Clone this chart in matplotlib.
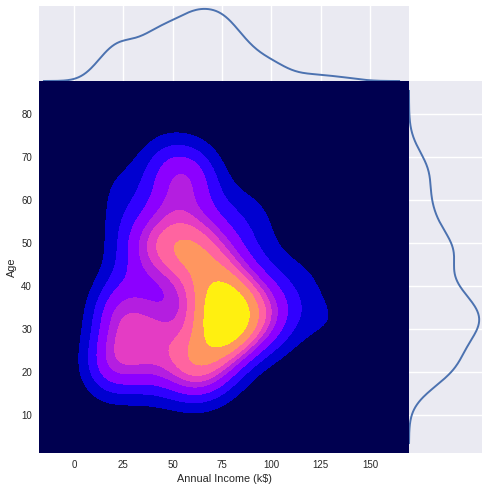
import numpy as np
import matplotlib
matplotlib.use("Agg")
import matplotlib.pyplot as plt

ages = [19,21,20,23,31,22,35,23,64,30,67,35,58,24,37,22,35,20,52,35,35,25,46,31,54,29,45,35,40,23,60,21,53,18,49,21,42,30,36,20,65,24,48,31,49,24,50,27,29,31,49,33,31,59,50,47,51,69,27,53,70,19,67,54,63,18,43,68,19,32,70,47,60,60,59,26,45,40,23,49,57,38,67,46,21,48,55,22,34,50,68,18,48,40,32,24,47,27,48,20,23,49,67,26,49,21,66,54,68,66,65,19,38,19,18,19,63,49,51,50,27,38,40,39,23,31,43,40,59,38,47,39,25,31,20,29,44,32,19,35,57,32,28,32,25,28,48,32,34,34,43,39,44,38,47,27,37,30,34,30,56,29,19,31,50,36,42,33,36,32,40,28,36,36,52,30,58,27,59,35,37,32,46,29,41,30,54,28,41,36,34,32,33,38,47,35,45,32,32,30]
income_values = [15,16,17,18,19,20,21,23,24,25,28,29,30,33,34,37,38,39,40,42,43,44,46,47,48,49,50,54,57,58,59,60,61,62,63,64,65,67,69,70,71,72,73,74,75,76,77,78,79,81,85,86,87,88,93,97,98,99,101,103,113,120,126,137]
income_counts = [2,2,2,2,4,4,2,2,2,2,4,2,2,4,2,2,2,4,4,2,4,2,4,2,6,2,2,12,2,2,2,6,2,6,6,2,4,4,2,2,6,2,4,2,2,2,4,12,2,2,2,2,6,4,2,2,2,2,2,4,2,2,2,2]
incomes = np.repeat(income_values, income_counts).astype(float)
ages = np.array(ages, float)
layer_colors = ["#000050", "#0000D0", "#3000FF", "#8C00FF", "#B41EE0", "#E43CC4", "#FF64A0", "#FF9660", "#FFF010"]
level_fractions = [0, .13, .23, .33, .43, .50, .57, .665, .80, 1]

xlim = (-17.7, 169.8)
ylim = (1.27, 87.66)

def silverman(d):
    iqr = np.percentile(d, 75) - np.percentile(d, 25)
    return 0.9 * min(d.std(ddof=1), iqr / 1.34) * len(d) ** (-0.2)

def kde1(grid, data, bw):
    z = (grid[:, None] - data[None, :]) / bw
    return np.exp(-0.5 * z * z) / (bw * np.sqrt(2 * np.pi))

gx = np.linspace(*xlim, 300)
gy = np.linspace(*ylim, 300)
margin_x = kde1(gx, incomes, silverman(incomes)).mean(axis=1)
margin_y = kde1(gy, ages, silverman(ages)).mean(axis=1)
f = len(ages) ** (-1 / 6)
Kx = kde1(gx, incomes, f * incomes.std(ddof=1))
Ky = kde1(gy, ages, f * ages.std(ddof=1))
Z = Ky @ Kx.T / len(ages)

W, H = 489, 492
plt.rcParams["font.family"] = ["Liberation Sans", "DejaVu Sans"]
dark = "#EAEAF2"
fig = plt.figure(figsize=(W/100, H/100), dpi=100, facecolor="white")
def box(l, t, r, b):
    return [l/W, 1-b/H, (r-l)/W, (b-t)/H]
ax = fig.add_axes(box(39, 81, 409, 453))
axt = fig.add_axes(box(39, 6, 409, 81), sharex=ax)
axr = fig.add_axes(box(409, 81, 482, 453), sharey=ax)

ax.contourf(gx, gy, Z, levels=np.array(level_fractions) * Z.max(), colors=layer_colors)
ax.set_xlim(xlim); ax.set_ylim(ylim)
ax.set_xticks([0,25,50,75,100,125,150])
ax.set_yticks([10,20,30,40,50,60,70,80])
ax.set_xlabel("Annual Income (k$)", fontsize=7.8, color="#262626", labelpad=3)
ax.set_ylabel("Age", fontsize=7.8, color="#262626", labelpad=3)
ax.tick_params(length=0, labelsize=7, labelcolor="#262626", pad=5)
for s in ax.spines.values():
    s.set_visible(False)

for a in (axt, axr):
    a.set_facecolor(dark)
    a.set_axisbelow(True)
    for s in a.spines.values():
        s.set_visible(False)
    a.tick_params(length=0, labelbottom=False, labelleft=False)
axt.grid(True, axis="x", color="white", lw=1)
axr.grid(True, axis="y", color="white", lw=1)
axt.plot(gx[4:-8], margin_x[4:-8], color="#4C72B0", lw=1.4)
axr.plot(margin_y[8:-8], gy[8:-8], color="#4C72B0", lw=1.4)
axt.set_ylim(0, margin_x.max() * 1.04)
axr.set_xlim(0, margin_y.max() * 1.04)
fig.savefig("out.png", dpi=100)
